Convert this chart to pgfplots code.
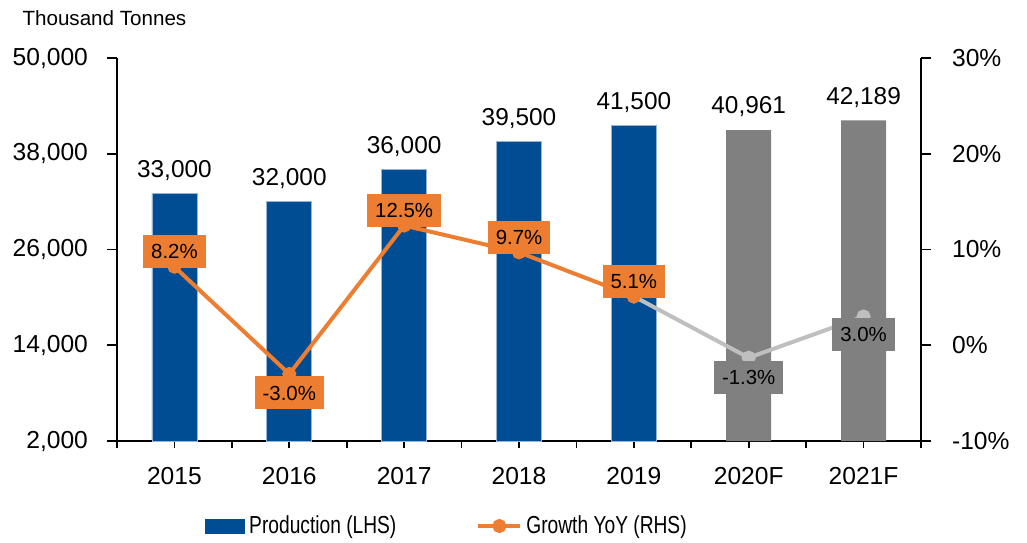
\documentclass[border=0pt]{standalone}
\usepackage{fontspec}
\setmainfont{Liberation Sans}
\newfontfamily\narrowfont[FakeStretch=0.78]{Liberation Sans}
\usepackage{pgfplots}
\pgfplotsset{compat=1.18}
\usepackage{pgfplotstable}

\definecolor{prodblue}{RGB}{0,77,148}
\definecolor{barline}{RGB}{150,180,215}
\definecolor{growthorange}{RGB}{237,125,49}
\definecolor{fcgray}{RGB}{128,128,128}
\definecolor{fclight}{RGB}{191,191,191}

% production, thousand tonnes
\pgfplotstableread{
x prod
0 33000
1 32000
2 36000
3 39500
4 41500
}\prodactual
\pgfplotstableread{
x prod
5 40961
6 42189
}\prodfc
% growth yoy (%), dy = label offset in pt
\pgfplotstableread{
x g dy
0 8.2 7.5
1 -3.0 -9.5
2 12.5 7.5
3 9.7 7.5
4 5.1 7.5
}\growthactual
\pgfplotstableread{
x g dy
4 5.1 7.5
5 -1.3 -10
6 3.0 -9
}\growthfc

\tikzset{lbl/.style={font=\fontsize{10.2}{12}\selectfont,text=black,inner xsep=4pt,inner ysep=0pt,
    minimum height=16.5pt,anchor=center}}
\pgfplotsset{
  base/.style={scale only axis,width=402pt,height=191.5pt,xmin=-0.5,xmax=6.5,clip=false,
    axis line style={line width=0.8pt},tick style={line width=0.8pt,black},tick align=outside,
    major tick length=5pt,/pgf/number format/assume math mode=true,
    ticklabel style={font=\fontsize{12.3}{14}\selectfont}},
  growthleg/.style={legend image code/.code={%
    \draw[mark repeat=2,mark phase=2,##1] plot coordinates {(0pt,0pt) (10.5pt,0pt) (21pt,0pt)};}},
  barleg/.style={legend image code/.code={\fill[prodblue] (0pt,-3.5pt) rectangle (19.5pt,3.5pt);}},
}

\begin{document}
\begin{tikzpicture}
\useasboundingbox (-58.5pt,-50.5pt) rectangle (455pt,220.5pt);
\begin{axis}[base,axis y line*=left,axis x line*=bottom,
  ymin=2000,ymax=50000,ytick={2000,14000,26000,38000,50000},scaled y ticks=false,
  yticklabel style={/pgf/number format/fixed,/pgf/number format/1000 sep={,},xshift=-6pt},
  xtick={-0.5,0.5,...,6.5},xticklabels={},
  xtick style={/pgfplots/major tick length=3.5pt},
  extra x ticks={0,1,2,3,4,5,6},
  extra x tick labels={2015,2016,2017,2018,2019,2020F,2021F},
  extra x tick style={major tick length=0pt},
  x tick label style={yshift=-9.5pt},
  legend style={at={(0.1095,-0.222)},anchor=west,draw=none,fill=none,inner sep=0pt,
    font=\fontsize{12.3}{14}\narrowfont,/tikz/every even column/.append style={column sep=38pt}},
  legend columns=2,legend cell align=left]
\addplot[ybar,bar width=22.5pt,bar shift=0pt,fill=prodblue,draw=barline,line width=0.4pt,
  nodes near coords={\pgfmathprintnumber[fixed,precision=0,1000 sep={,}]{\pgfplotspointmeta}},
  nodes near coords style={font=\fontsize{12.2}{14}\selectfont,text=black,yshift=3pt},
  barleg]
  table[x=x,y=prod]{\prodactual};
\addlegendentry{Production (LHS)}
\addplot[ybar,bar width=22.5pt,bar shift=0pt,fill=fcgray,draw=none,forget plot,
  nodes near coords={\pgfmathprintnumber[fixed,precision=0,1000 sep={,}]{\pgfplotspointmeta}},
  nodes near coords style={font=\fontsize{12.2}{14}\selectfont,text=black,yshift=3pt}]
  table[x=x,y=prod]{\prodfc};
\addlegendimage{growthorange,line width=2pt,mark=*,mark size=2.5pt,growthleg}
\addlegendentry{Growth YoY (RHS)}
\node[anchor=base west,font=\fontsize{10.3}{12}\selectfont,inner sep=0pt] at (rel axis cs:-0.118,1.0836) {Thousand Tonnes};
\end{axis}
\begin{axis}[base,axis y line*=right,axis x line=none,
  ymin=-10,ymax=30,ytick={-10,0,10,20,30},
  yticklabel={\pgfmathprintnumber{\tick}\%},
  y tick label style={xshift=7pt}]
\addplot[fclight,line width=2pt,mark=*,mark size=2.5pt,mark options={fill=fclight,draw=fclight}]
  table[x=x,y=g]{\growthfc};
\addplot[growthorange,line width=2pt,mark=*,mark size=2.5pt,
  nodes near coords={\pgfmathprintnumber[fixed,fixed zerofill,precision=1]{\pgfplotspointmeta}\%},
  visualization depends on={\thisrow{dy} \as \dy},
  every node near coord/.append style={lbl,fill=growthorange,yshift=\dy pt}]
  table[x=x,y=g]{\growthactual};
\addplot[draw=none,mark=none,
  nodes near coords={\pgfmathprintnumber[fixed,fixed zerofill,precision=1]{\pgfplotspointmeta}\%},
  visualization depends on={\thisrow{dy} \as \dy},
  every node near coord/.append style={lbl,fill=fcgray,yshift=\dy pt}]
  table[x=x,y=g,skip coords between index={0}{1}]{\growthfc};
\end{axis}
\end{tikzpicture}
\end{document}
